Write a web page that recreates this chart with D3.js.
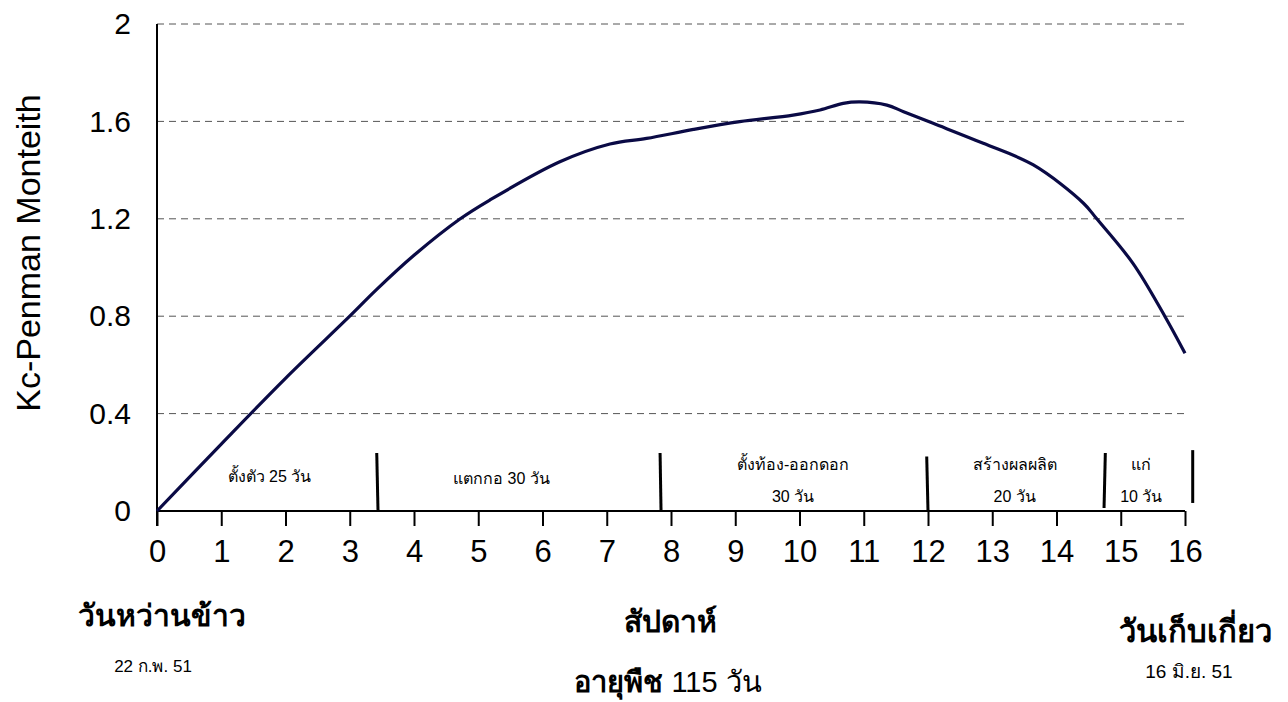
<!DOCTYPE html>
<html><head><meta charset="utf-8">
<script src="https://cdn.jsdelivr.net/npm/d3@7"></script>
<style>
html,body{margin:0;padding:0;background:#fff;}
svg{display:block;font-family:"Liberation Sans",Arial,sans-serif;}
</style></head>
<body><svg id="c" width="1288" height="702"></svg>
<script>
// ---- data ----
const weeks = [0, 1, 2, 3, 3.42, 4, 4.72, 5.18, 6.27, 7.05, 7.62, 8.35, 9.07, 9.9, 10.32, 10.68, 10.94, 11.36, 11.62, 12.08, 12.86, 13.64, 14.42, 14.62, 15.19, 15.69, 16];
const kc    = [0, 0.275, 0.545, 0.80, 0.91, 1.05, 1.20, 1.277, 1.434, 1.507, 1.53, 1.567, 1.599, 1.626, 1.647, 1.674, 1.68, 1.667, 1.64, 1.592, 1.51, 1.421, 1.264, 1.202, 1.017, 0.798, 0.648];
const xTicks = d3.range(0, 17);
const yTicks = [0, 0.4, 0.8, 1.2, 1.6, 2];
const yTickLabels = ["0", "0.4", "0.8", "1.2", "1.6", "2"];
const stageTopX = [3.42, 7.83, 11.98, 14.76, 16.12];
const stageBotX = [3.44, 7.845, 12.0, 14.74, 16.12];
const stageTopY = [0.238, 0.238, 0.224, 0.238, 0.25];
const stageBotY = [0.0, 0.0, 0.0, 0.012, 0.033];
const stageLabels = [
  {x: 1.75, y: 0.12, lines: ["ตั้งตัว 25 วัน"]},
  {x: 5.36, y: 0.11, lines: ["แตกกอ 30 วัน"]},
  {x: 9.9, y: 0.168, lines: ["ตั้งท้อง-ออกดอก", "30 วัน"]},
  {x: 13.35, y: 0.168, lines: ["สร้างผลผลิต", "20 วัน"]},
  {x: 15.32, y: 0.168, lines: ["แก่", "10 วัน"]}
];
const yTitle = "Kc-Penman Monteith";

const svg = d3.select("#c");
const x = d3.scaleLinear().domain([0, 16]).range([157, 1185]);
const y = d3.scaleLinear().domain([0, 2]).range([511, 24]);

// gridlines
svg.append("g").selectAll("line").data(yTicks.filter(d => d > 0)).join("line")
  .attr("x1", x(0)).attr("x2", x(16))
  .attr("y1", d => y(d)).attr("y2", d => y(d))
  .attr("stroke", "#555").attr("stroke-width", 1).attr("stroke-dasharray", "7,5");

// y axis
const yAxis = d3.axisLeft(y).tickValues(yTicks).tickSize(0).tickPadding(26)
  .tickFormat((d, i) => yTickLabels[i]);
const gy = svg.append("g").attr("transform", `translate(${x(0)},0)`).call(yAxis);
gy.select(".domain").remove();
gy.selectAll("text").attr("font-size", 30).attr("fill", "#000")
  .attr("font-family", "Liberation Sans, Arial, sans-serif");
svg.append("line").attr("x1", x(0)).attr("x2", x(0)).attr("y1", y(2)).attr("y2", y(0) + 15)
  .attr("stroke", "#000").attr("stroke-width", 2);

// x axis
const xAxis = d3.axisBottom(x).tickValues(xTicks).tickSize(15).tickPadding(14).tickFormat(d3.format("d"));
const gx = svg.append("g").attr("transform", `translate(0,${y(0)})`).call(xAxis);
gx.select(".domain").attr("d", `M${x(0)},0H${x(16)}`).attr("stroke-width", 2).attr("stroke", "#000");
gx.selectAll(".tick line").attr("stroke", "#000").attr("stroke-width", 2);
gx.selectAll("text").attr("font-size", 31).attr("fill", "#000")
  .attr("font-family", "Liberation Sans, Arial, sans-serif");

// stage dividers
svg.append("g").selectAll("line").data(stageTopX).join("line")
  .attr("x1", (d, i) => x(d)).attr("y1", (d, i) => y(stageTopY[i]))
  .attr("x2", (d, i) => x(stageBotX[i])).attr("y2", (d, i) => y(stageBotY[i]))
  .attr("stroke", "#000").attr("stroke-width", 3);

// stage labels
const sl = svg.append("g").selectAll("text").data(stageLabels).join("text")
  .attr("x", d => x(d.x)).attr("y", d => y(d.y))
  .attr("text-anchor", "middle").attr("font-size", 16).attr("fill", "#000");
sl.selectAll("tspan").data(d => d.lines.map((t, i) => ({t, i, x: d.x}))).join("tspan")
  .attr("x", d => x(d.x)).attr("dy", d => d.i === 0 ? 0 : 32).text(d => d.t);

// curve
const pts = weeks.map((w, i) => [w, kc[i]]);
svg.append("path").datum(pts)
  .attr("d", d3.line().x(d => x(d[0])).y(d => y(d[1])).curve(d3.curveCatmullRom.alpha(0.5)))
  .attr("fill", "none").attr("stroke", "#0a0a45").attr("stroke-width", 3.2)
  .attr("stroke-linejoin", "round");

// y title
svg.append("text").attr("transform", "translate(40,253) rotate(-90)")
  .attr("text-anchor", "middle").attr("font-size", 34).attr("fill", "#000").text(yTitle);

// bottom annotations
svg.append("text").attr("x", 162).attr("y", 626).attr("text-anchor", "middle")
  .attr("font-size", 30).attr("font-weight", "bold").text("วันหว่านข้าว");
svg.append("text").attr("x", 153).attr("y", 672).attr("text-anchor", "middle")
  .attr("font-size", 17).text("22 ก.พ. 51");
svg.append("text").attr("x", 670).attr("y", 632).attr("text-anchor", "middle")
  .attr("font-size", 30).attr("font-weight", "bold").text("สัปดาห์");
const ag = svg.append("text").attr("x", 668).attr("y", 692).attr("text-anchor", "middle").attr("font-size", 29);
ag.append("tspan").attr("font-weight", "bold").text("อายุพืช ");
ag.append("tspan").text("115 วัน");
svg.append("text").attr("x", 1195).attr("y", 642).attr("text-anchor", "middle")
  .attr("font-size", 31).attr("font-weight", "bold").text("วันเก็บเกี่ยว");
svg.append("text").attr("x", 1189).attr("y", 678).attr("text-anchor", "middle")
  .attr("font-size", 19).text("16 มิ.ย. 51");
</script></body></html>
